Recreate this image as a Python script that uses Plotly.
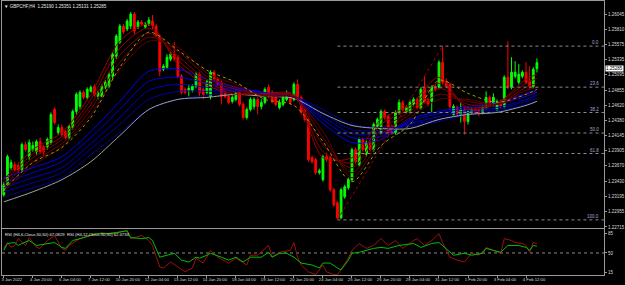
import plotly.graph_objects as go

# ---------------- data ----------------
bars = list(range(148))
opens = [1.23218, 1.23375, 1.23642, 1.23689, 1.23673, 1.23611, 1.24003, 1.23815, 1.23925, 1.23893,
         1.24050, 1.23972, 1.23972, 1.24035, 1.24553, 1.24192, 1.24270, 1.24208, 1.24113, 1.24270,
         1.24522, 1.24600, 1.24820, 1.24742, 1.24836, 1.24914, 1.24757, 1.24757, 1.24899, 1.24914,
         1.25072, 1.25386, 1.25606, 1.25857, 1.25810, 1.25857, 1.26045, 1.25841, 1.25920, 1.25841,
         1.25888, 1.25935, 1.25857, 1.25700, 1.25181, 1.25213, 1.25339, 1.25417, 1.25370, 1.25072,
         1.24867, 1.24852, 1.24852, 1.24914, 1.25103, 1.24867, 1.24820, 1.24757, 1.25134, 1.25024,
         1.24977, 1.24820, 1.24757, 1.24679, 1.24710, 1.24820, 1.24632, 1.24427, 1.24553, 1.24600,
         1.24710, 1.24600, 1.24663, 1.24899, 1.24820, 1.24757, 1.24584, 1.24632, 1.24710, 1.24742,
         1.24710, 1.24946, 1.24742, 1.24553, 1.24396, 1.23799, 1.23768, 1.23564, 1.23454, 1.23815,
         1.23799, 1.23297, 1.23092, 1.22857, 1.23187, 1.23328, 1.23454, 1.23925, 1.23689, 1.24082,
         1.23846, 1.24035, 1.23925, 1.24286, 1.24192, 1.24522, 1.24443, 1.24286, 1.24192, 1.24506,
         1.24663, 1.24522, 1.24522, 1.24632, 1.24710, 1.24584, 1.24899, 1.24710, 1.24679, 1.24914,
         1.24899, 1.25291, 1.24993, 1.24946, 1.24475, 1.24584, 1.24475, 1.24553, 1.24365, 1.24506,
         1.24553, 1.24553, 1.24506, 1.24584, 1.24742, 1.24632, 1.24553, 1.24679, 1.24600, 1.25056,
         1.24899, 1.25072, 1.24977, 1.25072, 1.25134, 1.24993, 1.24914, 1.25190]
closes = [1.23375, 1.23815, 1.23721, 1.23611, 1.23611, 1.24003, 1.23925, 1.24035, 1.23988, 1.24050,
          1.23893, 1.23893, 1.24082, 1.24475, 1.24349, 1.24270, 1.24160, 1.24113, 1.24286, 1.24522,
          1.24789, 1.24820, 1.24742, 1.24867, 1.24899, 1.24789, 1.24820, 1.24914, 1.24977, 1.25103,
          1.25417, 1.25700, 1.25857, 1.25763, 1.25935, 1.26045, 1.25778, 1.25920, 1.25888, 1.25888,
          1.25951, 1.25857, 1.25700, 1.25150, 1.25229, 1.25370, 1.25417, 1.25339, 1.25072, 1.24820,
          1.24820, 1.24883, 1.24914, 1.25103, 1.24820, 1.24789, 1.24993, 1.25134, 1.25024, 1.24946,
          1.24757, 1.24757, 1.24663, 1.24742, 1.24820, 1.24632, 1.24427, 1.24553, 1.24710, 1.24710,
          1.24600, 1.24663, 1.24867, 1.24757, 1.24679, 1.24632, 1.24663, 1.24742, 1.24757, 1.24663,
          1.24946, 1.24710, 1.24506, 1.24396, 1.23768, 1.23736, 1.23564, 1.23595, 1.23815, 1.23768,
          1.23297, 1.23061, 1.22857, 1.23297, 1.23344, 1.23454, 1.23925, 1.23736, 1.24082, 1.23925,
          1.24035, 1.23925, 1.24318, 1.24396, 1.24522, 1.24427, 1.24192, 1.24192, 1.24506, 1.24663,
          1.24553, 1.24584, 1.24663, 1.24710, 1.24584, 1.24867, 1.24679, 1.24632, 1.24899, 1.24867,
          1.25291, 1.24977, 1.24914, 1.24600, 1.24600, 1.24475, 1.24553, 1.24365, 1.24522, 1.24553,
          1.24506, 1.24506, 1.24584, 1.24742, 1.24632, 1.24742, 1.24679, 1.24600, 1.25056, 1.24899,
          1.25134, 1.25134, 1.25103, 1.25134, 1.24977, 1.24914, 1.25181, 1.25285]
highs = [1.23422, 1.23846, 1.23768, 1.23736, 1.23721, 1.24035, 1.24050, 1.24082, 1.24050, 1.24082,
         1.24113, 1.24003, 1.24113, 1.24506, 1.24584, 1.24318, 1.24318, 1.24239, 1.24318, 1.24553,
         1.24820, 1.24852, 1.24852, 1.24899, 1.24930, 1.24946, 1.24852, 1.24946, 1.25008, 1.25134,
         1.25449, 1.25731, 1.25888, 1.25888, 1.25967, 1.26076, 1.26076, 1.25951, 1.25951, 1.25920,
         1.25998, 1.26030, 1.25888, 1.25731, 1.25260, 1.25417, 1.25449, 1.25606, 1.25402, 1.25103,
         1.24899, 1.24946, 1.24946, 1.25134, 1.25134, 1.24899, 1.25024, 1.25166, 1.25166, 1.25056,
         1.25008, 1.24852, 1.24789, 1.24773, 1.24852, 1.24852, 1.24663, 1.24584, 1.24742, 1.24742,
         1.24742, 1.24710, 1.24899, 1.24946, 1.24852, 1.24789, 1.24710, 1.24773, 1.24852, 1.24773,
         1.24977, 1.25024, 1.24773, 1.24584, 1.24427, 1.23830, 1.23799, 1.23627, 1.23846, 1.23877,
         1.23830, 1.23328, 1.23124, 1.23328, 1.23375, 1.23486, 1.23956, 1.23956, 1.24113, 1.24113,
         1.24066, 1.24066, 1.24349, 1.24427, 1.24553, 1.24553, 1.24475, 1.24318, 1.24538, 1.24710,
         1.24695, 1.24616, 1.24695, 1.24742, 1.24742, 1.24899, 1.25072, 1.24742, 1.24930, 1.24946,
         1.25323, 1.25543, 1.25040, 1.24977, 1.24632, 1.24616, 1.24663, 1.24584, 1.24600, 1.24584,
         1.24584, 1.24584, 1.24616, 1.24836, 1.24773, 1.24805, 1.24710, 1.24710, 1.25087, 1.25621,
         1.25370, 1.25307, 1.25260, 1.25166, 1.25291, 1.25229, 1.25213, 1.25351]
lows = [1.23187, 1.23344, 1.23611, 1.23580, 1.23564, 1.23580, 1.23893, 1.23768, 1.23893, 1.23846,
        1.23846, 1.23815, 1.23925, 1.24003, 1.24318, 1.24160, 1.24129, 1.24082, 1.24082, 1.24239,
        1.24475, 1.24553, 1.24710, 1.24710, 1.24820, 1.24757, 1.24710, 1.24742, 1.24867, 1.24883,
        1.25024, 1.25339, 1.25574, 1.25731, 1.25778, 1.25810, 1.25731, 1.25810, 1.25857, 1.25810,
        1.25857, 1.25810, 1.25684, 1.25072, 1.25150, 1.25181, 1.25307, 1.25307, 1.25040, 1.24789,
        1.24789, 1.24757, 1.24820, 1.24883, 1.24757, 1.24710, 1.24789, 1.24710, 1.24993, 1.24914,
        1.24632, 1.24726, 1.24632, 1.24647, 1.24679, 1.24600, 1.24396, 1.24396, 1.24522, 1.24553,
        1.24475, 1.24553, 1.24632, 1.24726, 1.24647, 1.24600, 1.24553, 1.24600, 1.24679, 1.24632,
        1.24679, 1.24679, 1.24475, 1.24365, 1.23736, 1.23705, 1.23533, 1.23533, 1.23423, 1.23736,
        1.23266, 1.23030, 1.22826, 1.22841, 1.23156, 1.23297, 1.23423, 1.23705, 1.23658, 1.23893,
        1.23815, 1.23893, 1.23893, 1.24255, 1.24160, 1.24396, 1.24160, 1.24160, 1.24160, 1.24475,
        1.24522, 1.24490, 1.24490, 1.24600, 1.24553, 1.24553, 1.24647, 1.24600, 1.24506, 1.24836,
        1.24867, 1.24946, 1.24883, 1.24569, 1.24443, 1.24443, 1.24349, 1.24160, 1.24318, 1.24475,
        1.24475, 1.24443, 1.24475, 1.24553, 1.24600, 1.24600, 1.24522, 1.24569, 1.24569, 1.24867,
        1.24867, 1.25040, 1.24946, 1.25040, 1.24946, 1.24883, 1.24883, 1.25131]

# moving-average lines read at every 8th bar
ma_bars = [0, 8, 16, 24, 32, 40, 48, 56, 64, 72, 80, 88, 96, 104, 112, 120, 128, 136, 144, 147]
blue1 = [1.23485, 1.23642, 1.23815, 1.24208, 1.24679, 1.25150, 1.25181, 1.25024, 1.24899, 1.24820,
         1.24742, 1.24333, 1.24035, 1.24082, 1.24396, 1.24522, 1.24600, 1.24663, 1.24804, 1.24867]
blue2 = [1.23406, 1.23564, 1.23736, 1.24113, 1.24553, 1.24993, 1.25056, 1.24962, 1.24883, 1.24804,
         1.24742, 1.24396, 1.24113, 1.24129, 1.24365, 1.24490, 1.24569, 1.24632, 1.24757, 1.24820]
blue3 = [1.23328, 1.23485, 1.23642, 1.24019, 1.24427, 1.24852, 1.24946, 1.24899, 1.24867, 1.24804,
         1.24742, 1.24443, 1.24176, 1.24176, 1.24333, 1.24443, 1.24537, 1.24584, 1.24710, 1.24773]
blue4 = [1.23265, 1.23406, 1.23564, 1.23940, 1.24318, 1.24710, 1.24836, 1.24836, 1.24852, 1.24789,
         1.24757, 1.24490, 1.24239, 1.24223, 1.24318, 1.24396, 1.24506, 1.24553, 1.24679, 1.24726]
blue5 = [1.23187, 1.23328, 1.23485, 1.23846, 1.24192, 1.24553, 1.24710, 1.24773, 1.24836, 1.24789,
         1.24757, 1.24553, 1.24318, 1.24270, 1.24286, 1.24365, 1.24475, 1.24522, 1.24632, 1.24679]
grey_ma = [1.23108, 1.23265, 1.23454, 1.23736, 1.24145, 1.24553, 1.24710, 1.24742, 1.24789, 1.24757,
           1.24726, 1.24490, 1.24302, 1.24255, 1.24255, 1.24396, 1.24475, 1.24506, 1.24616, 1.24679]
red1 = [1.23454, 1.23925, 1.24192, 1.24789, 1.25621, 1.25888, 1.25260, 1.24930, 1.24789, 1.24804,
        1.24789, 1.23799, 1.23799, 1.24396, 1.24616, 1.25056, 1.24553, 1.24647, 1.25024, 1.25103]
red2 = [1.23406, 1.23862, 1.24129, 1.24710, 1.25511, 1.25825, 1.25323, 1.24977, 1.24820, 1.24789,
        1.24773, 1.23893, 1.23721, 1.24318, 1.24569, 1.24962, 1.24584, 1.24647, 1.24962, 1.25040]
red3 = [1.23359, 1.23799, 1.24082, 1.24632, 1.25401, 1.25747, 1.25386, 1.25024, 1.24867, 1.24773,
        1.24757, 1.24003, 1.23642, 1.24239, 1.24522, 1.24883, 1.24632, 1.24632, 1.24899, 1.24962]
red4 = [1.23312, 1.23736, 1.24019, 1.24553, 1.25291, 1.25684, 1.25464, 1.25072, 1.24899, 1.24773,
        1.24757, 1.24113, 1.23564, 1.24160, 1.24475, 1.24789, 1.24679, 1.24632, 1.24852, 1.24899]
red5 = [1.23265, 1.23673, 1.23972, 1.24475, 1.25181, 1.25621, 1.25527, 1.25119, 1.24946, 1.24757,
        1.24742, 1.24208, 1.23485, 1.24082, 1.24427, 1.24710, 1.24710, 1.24632, 1.24789, 1.24836]
yellow_ma = [1.23297, 1.23721, 1.23956, 1.24427, 1.25213, 1.25763, 1.25480, 1.25166, 1.24977, 1.24710,
             1.24616, 1.24050, 1.23422, 1.23988, 1.24318, 1.25009, 1.24804, 1.24663, 1.24789, 1.24867]

# Fibonacci retracement (low bar -> high bar)
fib_low_bar, fib_low = 92, 1.22826
fib_high_bar, fib_high = 121, 1.25543
fib_levels = [0.0, 23.6, 38.2, 50.0, 61.8, 100.0]

# RSI lines (bar index, value)
rsi12_bars = [0, 1, 3, 4, 5, 7, 9, 12, 14, 16, 17, 19, 22, 25, 28, 31, 33, 34, 35, 38, 40, 41, 43, 45, 47,
              49, 51, 53, 54, 56, 57, 60, 62, 64, 66, 68, 71, 73, 74, 76, 78, 80, 82, 85, 87, 88, 90, 92,
              93, 95, 96, 98, 100, 102, 104, 106, 109, 113, 115, 118, 120, 122, 124, 127, 129, 132, 133,
              135, 137, 139, 140, 142, 144, 145, 146, 147]
rsi12 = [54.8, 67.4, 69.2, 63.8, 67.4, 72.8, 63.8, 67.4, 69.2, 60.2, 58.4, 72.8, 78.2, 85.4, 85.4, 87.2,
         89.0, 90.8, 78.2, 76.4, 78.2, 72.8, 42.3, 45.9, 49.5, 36.9, 33.4, 42.3, 40.5, 45.9, 49.5, 42.3,
         36.9, 42.3, 33.4, 42.3, 42.3, 51.3, 42.3, 49.5, 49.5, 42.3, 31.5, 27.9, 22.5, 31.5, 31.5, 22.5,
         18.9, 36.9, 49.5, 51.3, 54.8, 58.4, 60.2, 58.4, 63.8, 67.4, 60.2, 67.4, 69.2, 58.4, 45.9, 49.5,
         45.9, 49.5, 58.4, 54.8, 51.3, 63.8, 63.8, 63.8, 60.2, 54.8, 63.8, 62.5]
rsi6_bars = [0, 1, 2, 3, 4, 6, 7, 9, 10, 12, 14, 16, 17, 18, 21, 24, 27, 29, 32, 34, 35, 38, 40, 41, 43,
             44, 46, 48, 50, 52, 53, 55, 57, 59, 62, 64, 67, 68, 70, 73, 74, 76, 79, 80, 81, 82, 84, 86,
             88, 89, 91, 92, 95, 96, 98, 100, 102, 104, 106, 108, 110, 113, 114, 116, 118, 120, 121,
             123, 125, 127, 128, 129, 131, 133, 135, 137, 138, 140, 141, 143, 144, 145, 146, 147]
rsi6 = [58.4, 69.2, 60.2, 63.8, 76.4, 63.8, 78.2, 60.2, 58.4, 72.8, 81.8, 58.4, 54.8, 63.8, 76.4, 81.8,
        87.2, 85.4, 89.0, 90.8, 76.4, 81.8, 72.8, 63.8, 24.3, 22.5, 33.4, 24.3, 15.4, 22.5, 40.5, 31.5,
        54.8, 42.3, 31.5, 40.5, 27.9, 45.9, 45.9, 63.8, 42.3, 51.3, 54.8, 69.2, 42.3, 27.9, 15.4, 10.0,
        27.9, 15.4, 10.0, 10.0, 40.5, 54.8, 67.4, 58.4, 63.8, 76.4, 63.8, 72.8, 58.4, 72.8, 76.4, 63.8,
        72.8, 85.4, 69.2, 42.3, 36.9, 33.4, 42.3, 49.5, 45.9, 60.2, 54.8, 49.5, 76.4, 72.8, 69.2, 67.4,
        63.8, 51.3, 69.2, 67.1]

price_ticks = [1.26045, 1.25810, 1.25575, 1.25335, 1.25095, 1.24855, 1.24620, 1.24380,
               1.24145, 1.23905, 1.23670, 1.23430, 1.23195, 1.22955, 1.22715]
time_tick_bars = [0, 8, 16, 24, 32, 40, 48, 56, 64, 72, 80, 88, 96, 104, 112, 120, 128, 136, 144]
time_tick_labels = ["3 Jan 2022", "4 Jan 20:00", "6 Jan 04:00", "7 Jan 12:00", "10 Jan 20:00",
                    "12 Jan 04:00", "13 Jan 12:00", "14 Jan 20:00", "18 Jan 04:00", "19 Jan 12:00",
                    "20 Jan 20:00", "24 Jan 04:00", "25 Jan 12:00", "26 Jan 20:00", "28 Jan 04:00",
                    "31 Jan 12:00", "1 Feb 20:00", "3 Feb 04:00", "4 Feb 12:00"]
rsi_ticks = [15, 50, 85]
last_price = 1.25285

# ---------------- figure ----------------
W, H = 625, 285
ML, MR, MT, MB = 2, 21, 1, 10
ph = H - MT - MB
main_bottom = (H - MB - 228) / ph
rsi_top = (H - MB - 229) / ph
XR = [-0.5, 165.5]
FONT = "Liberation Sans"
TXT = "#d8d8d8"
FRAME = "#9a9a9a"

fig = go.Figure()

blue_cols = ["#0000ff", "#0000e0", "#0000c8", "#0000b0", "#000098"]
for vals, c in zip([blue5, blue4, blue3, blue2, blue1], blue_cols[::-1]):
    fig.add_trace(go.Scatter(x=ma_bars, y=vals, mode="lines", line=dict(color=c, width=1, shape="spline", smoothing=0.8),
                             hoverinfo="skip", showlegend=False))
fig.add_trace(go.Scatter(x=ma_bars, y=grey_ma, mode="lines", line=dict(color="#9aa4a4", width=1, shape="spline", smoothing=0.8),
                         hoverinfo="skip", showlegend=False))
red_cols = ["#a00000", "#900000", "#800000", "#700000", "#600000"]
for vals, c in zip([red1, red2, red3, red4, red5], red_cols):
    fig.add_trace(go.Scatter(x=ma_bars, y=vals, mode="lines", line=dict(color=c, width=1, shape="spline", smoothing=0.8),
                             hoverinfo="skip", showlegend=False))
fig.add_trace(go.Scatter(x=ma_bars, y=yellow_ma, mode="lines", line=dict(color="#a89a00", width=1, dash="dot", shape="spline", smoothing=0.8),
                         hoverinfo="skip", showlegend=False))

# fibonacci
rng = fib_high - fib_low
for lv in fib_levels:
    yv = fib_high - rng * lv / 100.0
    fig.add_trace(go.Scatter(x=[fib_low_bar, XR[1]], y=[yv, yv], mode="lines",
                             line=dict(color="#8a8a8a", width=1, dash="dot"), hoverinfo="skip", showlegend=False))
    fig.add_annotation(x=0.995, xref="paper", y=yv, yref="y", text=f"{lv:.1f}", showarrow=False,
                       xanchor="right", yanchor="bottom", yshift=-1, font=dict(family=FONT, size=4.5, color="#a8a8d0"))
fig.add_trace(go.Scatter(x=[fib_low_bar, fib_high_bar], y=[fib_low, fib_high], mode="lines",
                         line=dict(color="#a00000", width=1, dash="dot"), hoverinfo="skip", showlegend=False))

fig.add_trace(go.Candlestick(x=bars, open=opens, high=highs, low=lows, close=closes,
                             increasing=dict(line=dict(color="#00ff00", width=1), fillcolor="#00ff00"),
                             decreasing=dict(line=dict(color="#ff0000", width=1), fillcolor="#ff0000"),
                             whiskerwidth=0, showlegend=False, hoverinfo="skip"))

# RSI pane
fig.add_trace(go.Scatter(x=XR, y=[50, 50], xaxis="x2", yaxis="y2", mode="lines",
                         line=dict(color="#8a8a8a", width=1, dash="dot"), hoverinfo="skip", showlegend=False))
fig.add_trace(go.Scatter(x=rsi6_bars, y=rsi6, xaxis="x2", yaxis="y2", mode="lines",
                         line=dict(color="#a01010", width=1), hoverinfo="skip", showlegend=False))
fig.add_trace(go.Scatter(x=rsi12_bars, y=rsi12, xaxis="x2", yaxis="y2", mode="lines",
                         line=dict(color="#00c000", width=1), hoverinfo="skip", showlegend=False))

axis_common = dict(showgrid=False, zeroline=False, showline=True, mirror=True, linecolor=FRAME, linewidth=1)
fig.update_layout(
    width=W, height=H, margin=dict(l=ML, r=MR, t=MT, b=MB),
    paper_bgcolor="black", plot_bgcolor="black", showlegend=False,
    xaxis=dict(domain=[0, 1], range=XR, anchor="y", showticklabels=False, ticks="",
               rangeslider=dict(visible=False), **axis_common),
    yaxis=dict(domain=[main_bottom, 1], range=[1.22699, 1.26249], side="right", anchor="x",
               tickvals=price_ticks, ticktext=[f"{v:.5f}" for v in price_ticks],
               ticks="outside", ticklen=2, tickcolor=FRAME,
               tickfont=dict(family=FONT, size=4.5, color=TXT), **axis_common),
    xaxis2=dict(domain=[0, 1], range=XR, anchor="y2", tickvals=time_tick_bars, ticktext=time_tick_labels,
                ticks="outside", ticklen=2, tickcolor=FRAME, ticklabelshift=8, ticklabelstandoff=-2,
                tickfont=dict(family=FONT, size=4.2, color=TXT), **axis_common),
    yaxis2=dict(domain=[0, rsi_top], range=[9.6, 94], side="right", anchor="x2",
                tickvals=rsi_ticks, ticktext=[str(v) for v in rsi_ticks],
                ticks="outside", ticklen=2, tickcolor=FRAME,
                tickfont=dict(family=FONT, size=4.5, color=TXT), **axis_common),
)

# header texts
fig.add_annotation(x=0.0, xref="paper", y=1.0, yref="paper", yshift=-1,
                   text="▼ GBPCHF,H4  1.25190 1.25351 1.25131 1.25285", showarrow=False,
                   xanchor="left", yanchor="top", font=dict(family=FONT, size=4.5, color="#e8e8e8"))
fig.add_annotation(x=0.0, xref="paper", y=rsi_top, yref="paper", yshift=-1, xshift=1,
                   text="RSI (H4,6,Close,50,50) 67.0829  RSI (H4,12,Close,50,50) 62.4733", showarrow=False,
                   xanchor="left", yanchor="top", font=dict(family=FONT, size=4.2, color="#e8e8e8"))
fig.add_annotation(x=1.0, xref="paper", y=last_price, yref="y", xshift=1, yshift=-6, text=f"{last_price:.5f}",
                   showarrow=False, xanchor="left", yanchor="middle", bgcolor="white", borderpad=0,
                   font=dict(family=FONT, size=4.5, color="black"))

fig.write_html("out.html")
